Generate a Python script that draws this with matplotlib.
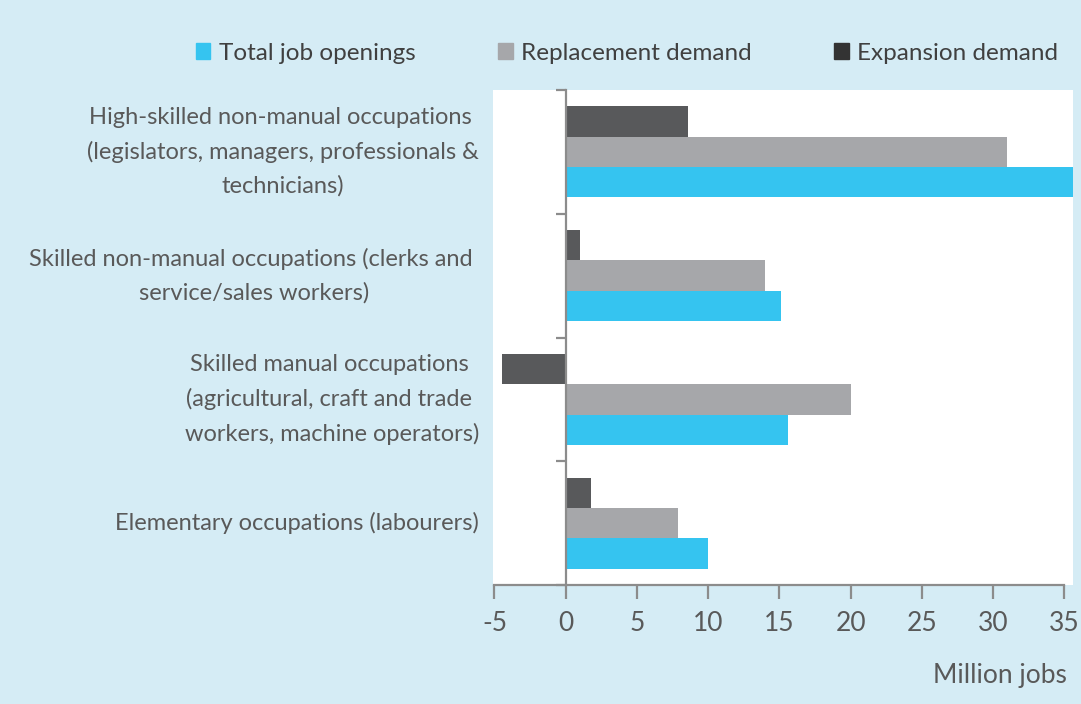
import matplotlib.pyplot as plt
import matplotlib.transforms as mtransforms
from matplotlib.patches import Patch
import numpy as np

# datos (millones de empleos)
categorias = [
    "High-skilled non-manual occupations \n(legislators, managers, professionals &\ntechnicians)",
    "Skilled non-manual occupations (clerks and \nservice/sales workers)",
    "Skilled manual occupations \n(agricultural, craft and trade \nworkers, machine operators)",
    "Elementary occupations (labourers)",
]
total = [35.6, 15.1, 15.6, 10.0]
reemplazo = [31.0, 14.0, 20.0, 7.9]
expansion = [8.6, 1.0, -4.5, 1.8]
ticks_x = [-5, 0, 5, 10, 15, 20, 25, 30, 35]

AZUL = "#35c4f0"
GRIS = "#a6a7aa"
OSCURO = "#58595b"
FONDO = "#d5ecf5"
TEXTO = "#595959"

plt.rcParams['font.family'] = ['Lato', 'DejaVu Sans']

fig = plt.figure(figsize=(10.81, 7.04), dpi=100, facecolor=FONDO)
ax = fig.add_axes([493 / 1081, 119 / 704, 580 / 1081, 495 / 704])
ax.set_facecolor("white")

y = np.arange(len(categorias))
h = 0.245
ax.barh(y - h, expansion, height=h, color=OSCURO)
ax.barh(y, reemplazo, height=h, color=GRIS)
ax.barh(y + h, total, height=h, color=AZUL)

ax.set_xlim(-5.1, 35.6)
ax.set_ylim(len(categorias) - 0.5, -0.5)

for s in ["top", "right"]:
    ax.spines[s].set_visible(False)
ax.spines["left"].set_position(("data", 0))
ax.spines["left"].set_color("#8c8c8c")
ax.spines["left"].set_linewidth(1.6)
ax.spines["bottom"].set_color("#8c8c8c")
ax.spines["bottom"].set_linewidth(1.6)
ax.spines["bottom"].set_bounds(-5, 35)

ax.set_xticks(ticks_x)
ax.set_xticklabels([str(t) for t in ticks_x])
ax.tick_params(axis="x", direction="out", length=10, width=1.6, color="#8c8c8c",
               labelsize=19, labelcolor=TEXTO, pad=9)
ax.set_yticks(np.arange(len(categorias) + 1) - 0.5)
ax.set_yticklabels([])
ax.tick_params(axis="y", direction="out", length=7, width=1.6, color="#8c8c8c")

trans = mtransforms.blended_transform_factory(ax.transAxes, ax.transData)
for i, c in enumerate(categorias):
    ax.text(-0.024, i, c, transform=trans, ha="right", va="center",
            multialignment="center", fontsize=17, color=TEXTO, linespacing=1.72)

fig.text(1067 / 1081, 1 - 676 / 704, "Million jobs", ha="right", va="center",
         fontsize=19, color=TEXTO)

handles = [Patch(color=AZUL), Patch(color=GRIS), Patch(color="#333333")]
fig.legend(handles, ["Total job openings", "Replacement demand", "Expansion demand"],
           loc="center", bbox_to_anchor=(627 / 1081, 1 - 53 / 704), ncol=3,
           frameon=False, fontsize=17.5, handlelength=0.6, handleheight=0.6,
           handletextpad=0.35, columnspacing=3.4, labelcolor="#404040")

fig.savefig("out.png", dpi=100, facecolor=FONDO)
